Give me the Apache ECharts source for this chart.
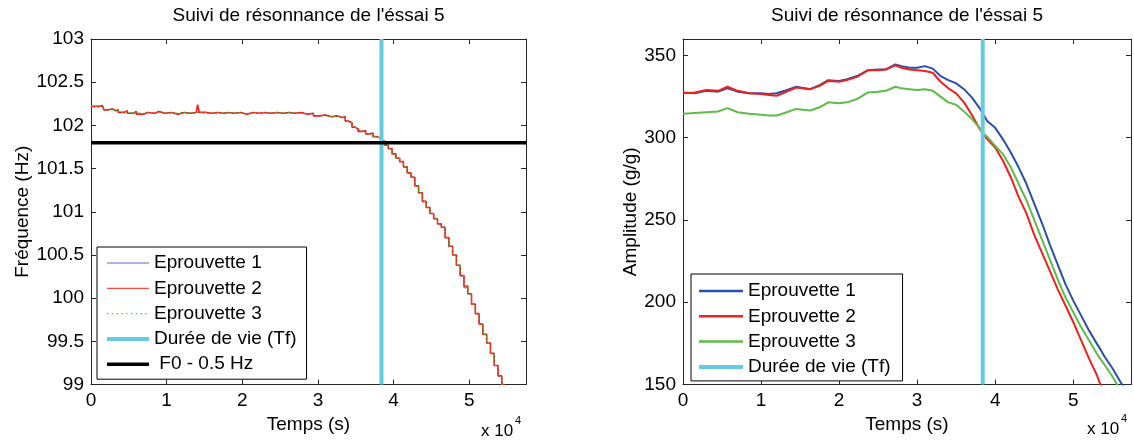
<!DOCTYPE html>
<html>
<head>
<meta charset="utf-8">
<script src="https://cdn.jsdelivr.net/npm/echarts@6/dist/echarts.min.js"></script>
<style>
html,body{margin:0;padding:0;background:#fff;}
#chart{width:1134px;height:441px;}
</style>
</head>
<body>
<div id="chart"></div>
<script>
// ---------- DATA ----------
const titleText = "Suivi de résonnance de l'éssai 5";
const seriesNames = ['Eprouvette 1', 'Eprouvette 2', 'Eprouvette 3'];
const tfName = 'Durée de vie (Tf)';
const f0Name = ' F0 - 0.5 Hz';

const tfTime = 38400;          // s
const f0Limit = 101.8;         // Hz
const xMaxLeft = 57500;
const xMaxRight = 57400;

// Left plot: resonance frequency (Hz)
const tL = [0,1200,1500,1700,2300,2800,3300,3600,4400,4800,5600,6000,6900,7500,8400,9000,9800,10600,11500,12300,13200,13900,14100,14300,15200,16000,16800,17500,18200,19000,19800,20600,21400,22200,23000,23800,24600,25400,26200,27000,27800,28600,29400,30200,31000,31800,32600,33200,33600,34000,34500,34900,35300,35800,36300,36800,37300,37800,38300,38800,39300,39800,40300,40800,41300,41800,42300,42800,43300,43800,44300,44800,45300,45800,46300,46800,47300,47800,48300,48800,49300,49800,50300,50800,51300,51800,52300,52800,53300,53800,54300,54600];
const freq1 = [102.22,102.23,102.21,102.18,102.19,102.17,102.18,102.15,102.17,102.14,102.16,102.13,102.15,102.14,102.16,102.14,102.15,102.13,102.15,102.14,102.15,102.14,102.15,102.15,102.14,102.15,102.14,102.15,102.14,102.15,102.13,102.15,102.14,102.15,102.14,102.15,102.14,102.15,102.14,102.15,102.13,102.14,102.11,102.12,102.10,102.11,102.09,102.10,102.05,102.03,101.98,101.96,101.93,101.94,101.90,101.91,101.87,101.85,101.82,101.77,101.73,101.67,101.62,101.58,101.52,101.45,101.40,101.30,101.22,101.12,101.05,100.98,100.92,100.86,100.82,100.70,100.60,100.50,100.38,100.26,100.12,100.05,99.93,99.82,99.70,99.58,99.48,99.36,99.22,99.10,99.00,98.95];
const freq2 = [102.22,102.23,102.21,102.18,102.19,102.17,102.18,102.15,102.17,102.14,102.16,102.13,102.15,102.14,102.16,102.14,102.15,102.13,102.15,102.14,102.15,102.14,102.24,102.15,102.14,102.15,102.14,102.15,102.14,102.15,102.13,102.15,102.14,102.15,102.14,102.15,102.14,102.15,102.14,102.15,102.13,102.14,102.11,102.12,102.10,102.11,102.09,102.10,102.05,102.03,101.98,101.96,101.93,101.94,101.90,101.91,101.87,101.85,101.82,101.77,101.73,101.67,101.62,101.58,101.52,101.45,101.40,101.30,101.22,101.12,101.05,100.98,100.92,100.86,100.82,100.70,100.60,100.50,100.38,100.26,100.14,100.05,99.93,99.82,99.70,99.58,99.48,99.36,99.22,99.10,99.00,98.95];
const freq3 = [102.22,102.22,102.21,102.18,102.18,102.17,102.17,102.15,102.16,102.14,102.15,102.14,102.15,102.14,102.15,102.14,102.15,102.14,102.15,102.14,102.15,102.14,102.15,102.15,102.14,102.15,102.14,102.15,102.14,102.15,102.14,102.15,102.14,102.15,102.14,102.15,102.14,102.15,102.14,102.14,102.13,102.13,102.11,102.11,102.10,102.10,102.09,102.09,102.05,102.03,101.98,101.96,101.94,101.93,101.90,101.90,101.87,101.85,101.82,101.77,101.73,101.67,101.62,101.58,101.52,101.45,101.40,101.30,101.22,101.12,101.05,100.98,100.92,100.86,100.82,100.70,100.60,100.50,100.38,100.26,100.14,100.05,99.93,99.82,99.70,99.58,99.48,99.36,99.22,99.10,99.00,98.95];

// Right plot: amplitude (g/g)
const tR = [0,1500,3000,4500,5700,7000,8500,10000,11000,12000,13000,14500,16300,17500,18600,20000,21000,22300,23700,25000,26000,27200,28000,29000,30000,31000,32000,33000,34000,35000,36000,37000,38000,38500,39000,40000,41000,42000,43000,44000,45000,46000,47000,48000,49000,50000,51000,52000,53000,53400,54000,55000,56000,57400];
const amp1 = [327.5,327,328.5,328,330,328,327,327,326.5,327,328.5,331,329.5,332,335,334.5,335.5,337.5,341,341.5,341.5,344.5,343.5,342.5,342.5,343.5,342,337.5,335,333,329.5,324.5,318,314,310,306,299,291,282,272,260,248,235,223,211,201,192,183,175,172,167,160,152,141];
const amp2 = [327,327.5,329,328.5,331,328.5,327,326.5,326,325.5,327.5,330.5,329.5,331.5,334.5,334,335,337,341,341,341.5,344,342.5,341.5,341,340.5,339.5,334,330,327,321.5,314,305.5,302,299,294,286,276,264,254,241,230,219,208,198,188,177,166,156,151,145,null,null,null];
const amp3 = [314.5,315,315.5,316,318,315.5,314.5,314,313.5,313.5,315,317.5,316.5,318.5,321.5,321,321.5,323.5,327.5,328,328.5,331,330,329.5,329,329.5,328.5,325,321.5,320,316,311.5,306,302.5,300.5,295,290,282,272,262,250,238,226,214,203,194,185,177,169,166,162,155,147,137];

// Axis ticks
const yTicksLeft = {min: 99, max: 103, interval: 0.5};
const yTicksRight = {min: 150, max: 360, interval: 50};
const xTickInterval = 10000;

// ---------- CHART ----------
const FONT = '"Liberation Sans", Arial, Helvetica, sans-serif';
const AX = '#262626';
const colL = ['#4a6fc4', '#ff1a1a', '#2fcf2f'];
const colR = ['#2a4fa8', '#f0201e', '#5dbb46'];
const cyan = '#66cbe0';

function zip(xs, ys) { return xs.map((x, i) => [x, ys[i]]); }

function xAx(grid, max, main) {
  return {
    type: 'value', gridIndex: grid, min: 0, max: max, interval: xTickInterval,
    position: main ? 'bottom' : 'top',
    axisLine: {show: true, onZero: false, lineStyle: {color: AX, width: 1}},
    axisTick: {show: true, inside: true, length: 5, lineStyle: {color: AX}},
    splitLine: {show: false},
    axisLabel: main ? {show: true, showMaxLabel: false, fontSize: 19, color: '#000', fontFamily: FONT, margin: 7,
      formatter: v => String(v / 10000)} : {show: false},
    name: main ? 'Temps (s)' : '', nameLocation: 'middle', nameGap: 28,
    nameTextStyle: {fontSize: 19, color: '#000', fontFamily: FONT}
  };
}
function yAx(grid, t, main, name, gap) {
  return {
    type: 'value', gridIndex: grid, min: t.min, max: t.max, interval: t.interval,
    position: main ? 'left' : 'right',
    axisLine: {show: true, onZero: false, lineStyle: {color: AX, width: 1}},
    axisTick: {show: true, inside: true, length: 5, lineStyle: {color: AX}},
    splitLine: {show: false},
    axisLabel: main ? {show: true, showMaxLabel: t.max % t.interval === 0, fontSize: 19, color: '#000', fontFamily: FONT, margin: 7} : {show: false},
    name: main ? name : '', nameLocation: 'middle', nameGap: gap,
    nameTextStyle: {fontSize: 19, color: '#000', fontFamily: FONT}
  };
}
function lineS(name, data, xi, yi, color, width, type, step) {
  return {
    name: name, type: 'line', xAxisIndex: xi, yAxisIndex: yi, data: data,
    symbol: 'none', showSymbol: false, step: step || false, animation: false,
    lineStyle: {color: color, width: width, type: type || 'solid'},
    itemStyle: {color: color}, emphasis: {disabled: true}
  };
}

const legendCommon = {
  orient: 'vertical', backgroundColor: '#fff', borderColor: '#000', borderWidth: 1, borderRadius: 0,
  itemWidth: 42, itemHeight: 14, itemGap: 3.3, selectedMode: false,
  itemStyle: {opacity: 0},
  textStyle: {fontSize: 19, color: '#000', fontFamily: FONT, lineHeight: 22}
};

const option = {
  backgroundColor: '#fff',
  animation: false,
  title: [
    {text: titleText, left: 308.5, top: 6, textAlign: 'center', padding: 0,
     textStyle: {fontSize: 19, fontWeight: 'normal', color: '#000', fontFamily: FONT}},
    {text: titleText, left: 907, top: 6, textAlign: 'center', padding: 0,
     textStyle: {fontSize: 19, fontWeight: 'normal', color: '#000', fontFamily: FONT}}
  ],
  grid: [
    {left: 91, top: 39, width: 435, height: 345.5, show: false},
    {left: 683, top: 39, width: 448, height: 345.5, show: false}
  ],
  xAxis: [xAx(0, xMaxLeft, true), xAx(0, xMaxLeft, false), xAx(1, xMaxRight, true), xAx(1, xMaxRight, false)],
  yAxis: [yAx(0, yTicksLeft, true, 'Fréquence (Hz)', 58), yAx(0, yTicksLeft, false),
          yAx(1, yTicksRight, true, 'Amplitude (g/g)', 42), yAx(1, yTicksRight, false)],
  legend: [
    Object.assign({}, legendCommon, {
      left: 97, top: 247, padding: [5, 10, 4, 8],
      data: [
        {name: seriesNames[0], lineStyle: {width: 1, color: colL[0], type: 'solid'}},
        {name: seriesNames[1], lineStyle: {width: 1, color: colL[1], type: 'solid'}},
        {name: seriesNames[2], lineStyle: {width: 1.3, color: colL[2], type: [1.3, 3.5]}},
        {name: tfName, lineStyle: {width: 4, color: cyan, type: 'solid'}},
        {name: f0Name, lineStyle: {width: 3.5, color: '#000', type: 'solid'}}
      ]
    }),
    Object.assign({}, legendCommon, {
      left: 691, top: 274, padding: [6, 12, 3, 6], itemWidth: 44,
      data: [
        {name: seriesNames[0], lineStyle: {width: 2.5, color: colR[0], type: 'solid'}},
        {name: seriesNames[1], lineStyle: {width: 2.5, color: colR[1], type: 'solid'}},
        {name: seriesNames[2], lineStyle: {width: 2.5, color: colR[2], type: 'solid'}},
        {name: tfName, lineStyle: {width: 4, color: cyan, type: 'solid'}}
      ]
    })
  ],
  series: [
    lineS(seriesNames[0], zip(tL, freq1), 0, 0, colL[0], 1, 'solid', 'end'),
    lineS(seriesNames[1], zip(tL, freq2), 0, 0, colL[1], 1.6, 'solid', 'end'),
    lineS(seriesNames[2], zip(tL, freq3), 0, 0, colL[2], 1.2, [1.2, 3], 'end'),
    lineS(tfName, [[tfTime, yTicksLeft.min], [tfTime, yTicksLeft.max]], 0, 0, cyan, 4),
    lineS(f0Name, [[0, f0Limit], [xMaxLeft, f0Limit]], 0, 0, '#000', 3.5),

    lineS(seriesNames[0], zip(tR, amp1), 2, 2, colR[0], 2),
    lineS(seriesNames[1], zip(tR, amp2), 2, 2, colR[1], 2),
    lineS(seriesNames[2], zip(tR, amp3), 2, 2, colR[2], 2),
    lineS(tfName, [[tfTime, yTicksRight.min], [tfTime, yTicksRight.max]], 2, 2, cyan, 4)
  ],
  graphic: [
    {type: 'text', left: 481, top: 423, style: {text: 'x 10', fontSize: 17, fill: '#000', fontFamily: FONT}},
    {type: 'text', left: 515, top: 415, style: {text: '4', fontSize: 11, fill: '#000', fontFamily: FONT}},
    {type: 'text', left: 1087, top: 421, style: {text: 'x 10', fontSize: 17, fill: '#000', fontFamily: FONT}},
    {type: 'text', left: 1121, top: 413, style: {text: '4', fontSize: 11, fill: '#000', fontFamily: FONT}}
  ]
};

const chart = echarts.init(document.getElementById('chart'), null, {renderer: 'canvas'});
chart.setOption(option);
</script>
</body>
</html>
